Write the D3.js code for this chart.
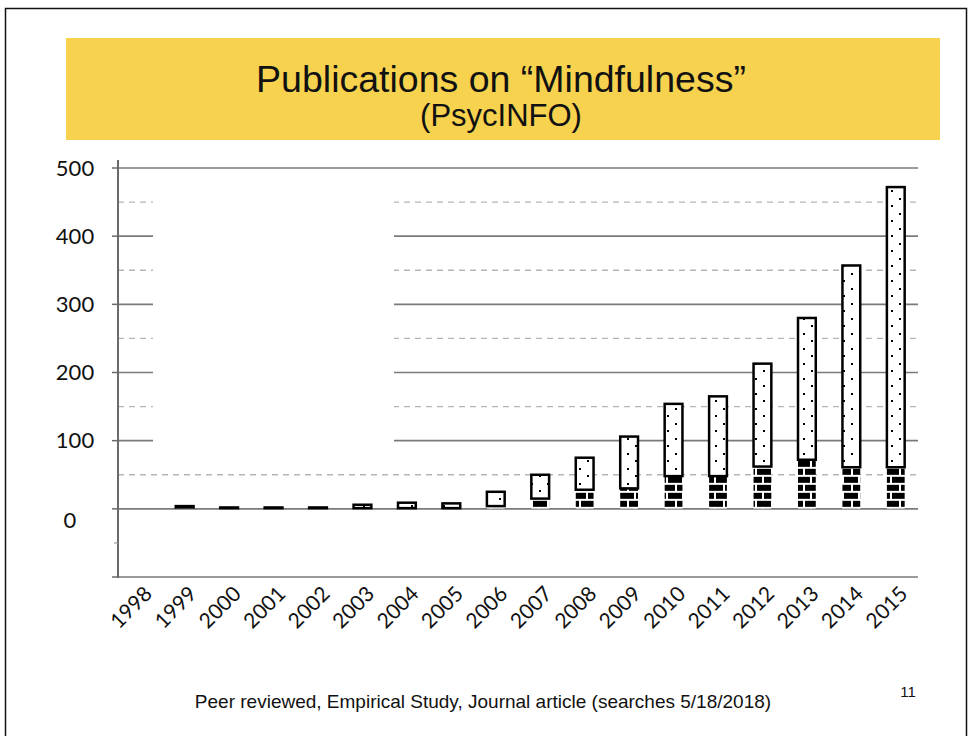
<!DOCTYPE html>
<html>
<head>
<meta charset="utf-8">
<script src="https://cdn.jsdelivr.net/npm/d3@7"></script>
<style>
  html, body { margin: 0; padding: 0; background: #fff; }
  svg { display: block; }
</style>
</head>
<body>
<svg id="chart" width="972" height="736"></svg>
<script>
// Publications per year, split into two stacked parts
const years = ["1998","1999","2000","2001","2002","2003","2004","2005","2006",
               "2007","2008","2009","2010","2011","2012","2013","2014","2015"];
// lower (brick) segment
const lowerCounts = [0, 2, 1, 1, 1, 1, 1, 1, 4, 15, 28, 30, 48, 48, 62, 72, 61, 61];
// upper (dotted) segment
const upperCounts = [0, 2, 1, 1, 1, 5, 8, 7, 21, 35, 47, 76, 106, 117, 151, 208, 296, 411];

const yTickValues = [500, 400, 300, 200, 100, 0];
const yTickLabels = ["500", "400", "300", "200", "100", "0"];
const solidGrid = [500, 400, 300, 200, 100, 0, -100];
const dashedGrid = [450, 350, 250, 150, 50];

const titleText = "Publications on \u201CMindfulness\u201D";
const subtitleText = "(PsycINFO)";
const footerText = "Peer reviewed, Empirical Study, Journal article (searches 5/18/2018)";
const pageNumber = "11";

const svg = d3.select("#chart");

// slide frame
svg.append("rect")
  .attr("x", 5.5).attr("y", 8.5).attr("width", 961).attr("height", 740)
  .attr("fill", "none").attr("stroke", "#111").attr("stroke-width", 1.5);

// title banner
svg.append("rect")
  .attr("x", 66).attr("y", 38).attr("width", 874).attr("height", 102)
  .attr("fill", "#F7D24E");
svg.append("text")
  .attr("x", 501).attr("y", 92)
  .attr("text-anchor", "middle")
  .attr("font-family", "Liberation Sans, Arial, sans-serif")
  .attr("font-size", 37.5).attr("fill", "#111")
  .text(titleText);
svg.append("text")
  .attr("x", 501).attr("y", 126)
  .attr("text-anchor", "middle")
  .attr("font-family", "Liberation Sans, Arial, sans-serif")
  .attr("font-size", 31).attr("fill", "#111")
  .text(subtitleText);

// scales
const x = d3.scaleBand().domain(years).range([118, 918])
  .paddingInner(0.6).paddingOuter(0.3);
const y = d3.scaleLinear().domain([-100, 500]).range([577, 168]);

// patterns
const defs = svg.append("defs");
const dots = defs.append("pattern")
  .attr("id", "dots").attr("patternUnits", "userSpaceOnUse")
  .attr("width", 16).attr("height", 15);
dots.append("rect").attr("width", 16).attr("height", 15).attr("fill", "#fff");
dots.append("rect").attr("x", 3).attr("y", 3).attr("width", 2).attr("height", 2).attr("fill", "#000");
dots.append("rect").attr("x", 11).attr("y", 10).attr("width", 2).attr("height", 2).attr("fill", "#000");

const brick = defs.append("pattern")
  .attr("id", "brick").attr("patternUnits", "userSpaceOnUse")
  .attr("width", 16).attr("height", 16)
  .attr("y", y(0));
brick.append("rect").attr("width", 16).attr("height", 16).attr("fill", "#000");
brick.append("rect").attr("x", 0).attr("y", 6).attr("width", 16).attr("height", 2).attr("fill", "#fff");
brick.append("rect").attr("x", 0).attr("y", 14).attr("width", 16).attr("height", 2).attr("fill", "#fff");
brick.append("rect").attr("x", 10).attr("y", 0).attr("width", 2).attr("height", 6).attr("fill", "#fff");
brick.append("rect").attr("x", 3).attr("y", 8).attr("width", 2).attr("height", 6).attr("fill", "#fff");

// gridlines
const grid = svg.append("g");
grid.selectAll("line.dash").data(dashedGrid).join("line")
  .attr("x1", 118).attr("x2", 918)
  .attr("y1", d => y(d)).attr("y2", d => y(d))
  .attr("stroke", "#b5b5b5").attr("stroke-width", 1.3)
  .attr("stroke-dasharray", "6,5");
grid.selectAll("line.solid").data(solidGrid).join("line")
  .attr("x1", 118).attr("x2", 918)
  .attr("y1", d => y(d)).attr("y2", d => y(d))
  .attr("stroke", "#7a7a7a").attr("stroke-width", 1.6);

// blank panel over the upper-left of the grid
svg.append("rect")
  .attr("x", 153).attr("y", 186).attr("width", 241).attr("height", 268)
  .attr("fill", "#fff");

// y axis line and ticks
svg.append("line")
  .attr("x1", 118).attr("x2", 118).attr("y1", 160).attr("y2", 578)
  .attr("stroke", "#6a6a6a").attr("stroke-width", 2);
svg.selectAll("line.ytick").data(solidGrid).join("line")
  .attr("x1", 112).attr("x2", 118)
  .attr("y1", d => y(d)).attr("y2", d => y(d))
  .attr("stroke", "#6a6a6a").attr("stroke-width", 1.5);
svg.append("line")
  .attr("x1", 114).attr("x2", 118).attr("y1", y(-50)).attr("y2", y(-50))
  .attr("stroke", "#9a9a9a").attr("stroke-width", 1.2);

// y tick labels
svg.selectAll("text.ylab").data(yTickValues).join("text")
  .attr("x", d => d === 0 ? 70 : 75)
  .attr("y", d => y(d) + (d === 0 ? 11 : 0))
  .attr("dy", "0.35em")
  .attr("text-anchor", "middle")
  .attr("font-family", "Lato, sans-serif")
  .attr("font-size", 22).attr("fill", "#111")
  .text((d, i) => yTickLabels[i]);

// stacked bars
const bars = svg.append("g");
bars.selectAll("rect.lower").data(years).join("rect")
  .attr("x", d => x(d))
  .attr("width", x.bandwidth())
  .attr("y", (d, i) => y(lowerCounts[i]))
  .attr("height", (d, i) => y(0) - y(lowerCounts[i]))
  .attr("fill", "url(#brick)");
bars.selectAll("rect.upper").data(years).join("rect")
  .attr("x", d => x(d))
  .attr("width", x.bandwidth())
  .attr("y", (d, i) => y(lowerCounts[i] + upperCounts[i]))
  .attr("height", (d, i) => y(lowerCounts[i]) - y(lowerCounts[i] + upperCounts[i]))
  .attr("fill", "url(#dots)")
  .attr("stroke", (d, i) => upperCounts[i] === 0 ? "#555" : "#000")
  .attr("stroke-width", (d, i) => upperCounts[i] === 0 ? 1.5 : 2.5);

// x tick labels, rotated
svg.selectAll("text.xlab").data(years).join("text")
  .attr("transform", d => `translate(${x(d) + x.bandwidth() / 2 + 8},${590}) rotate(-45)`)
  .attr("text-anchor", "end")
  .attr("dy", "0.35em")
  .attr("font-family", "Lato, sans-serif")
  .attr("font-size", 21).attr("fill", "#111")
  .text(d => d);

// footer
svg.append("text")
  .attr("x", 483).attr("y", 708)
  .attr("text-anchor", "middle")
  .attr("font-family", "Liberation Sans, Arial, sans-serif")
  .attr("font-size", 19).attr("fill", "#111")
  .text(footerText);
svg.append("text")
  .attr("x", 908).attr("y", 697)
  .attr("text-anchor", "middle")
  .attr("font-family", "Liberation Sans, Arial, sans-serif")
  .attr("font-size", 15).attr("fill", "#111")
  .text(pageNumber);
</script>
</body>
</html>
